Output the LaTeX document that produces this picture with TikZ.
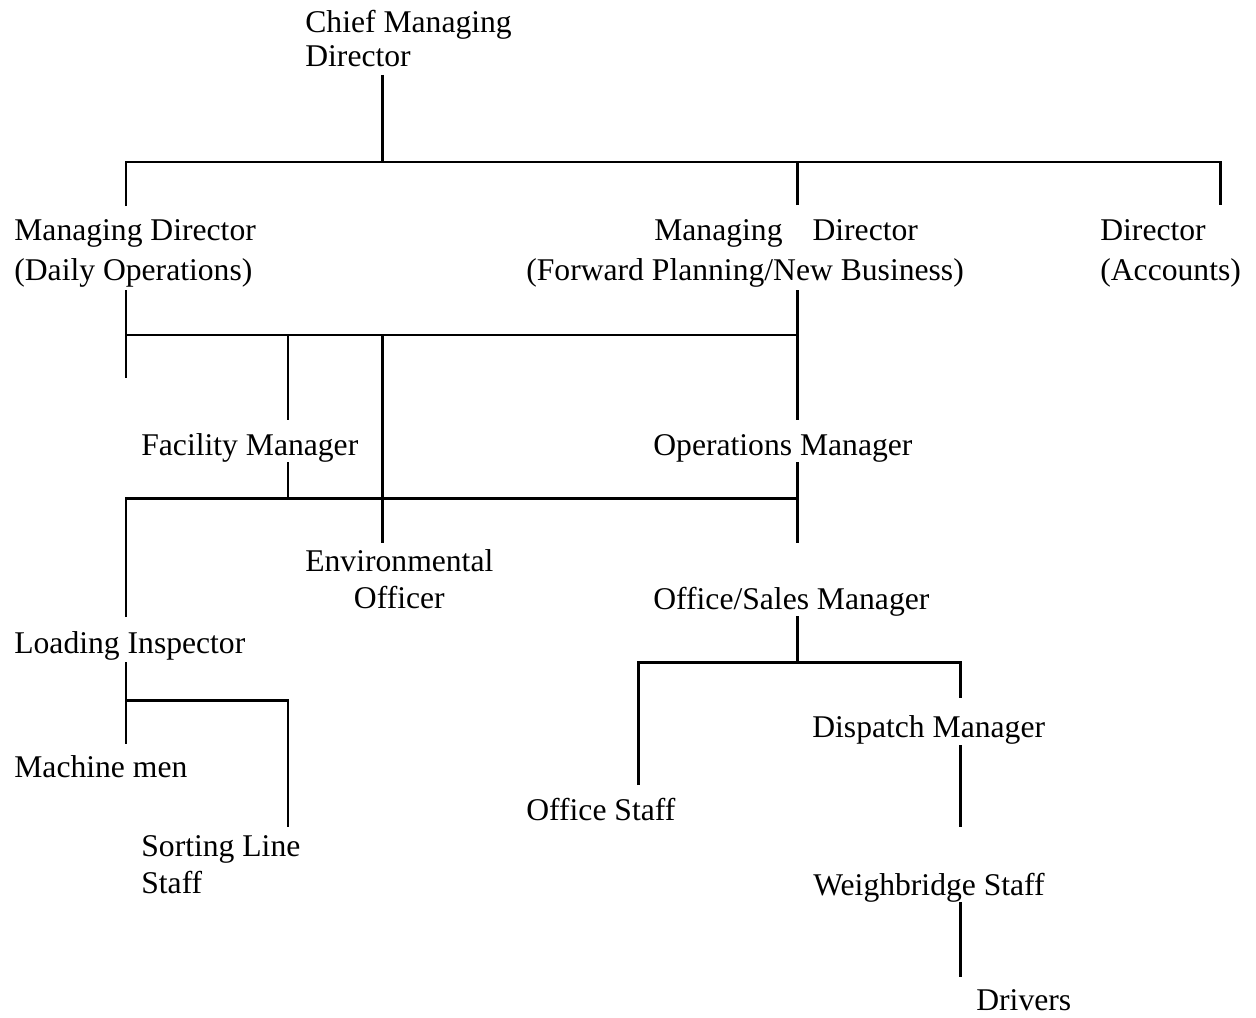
\documentclass[tikz,border=0pt]{standalone}
\usepackage{fontspec}
\setmainfont{Liberation Serif}
\usepackage{tikz}
\usetikzlibrary{positioning,calc}

\tikzset{
  lbl/.style={anchor=base west, inner sep=0pt, align=left, font=\fontsize{18}{20.5}\selectfont},
  wide/.style={font=\fontsize{18}{22.7}\selectfont},
  link/.style={line width=1.7pt}
}

\begin{document}
\begin{tikzpicture}[x=0.02cm, y=-0.02cm]
    \useasboundingbox (0,0) rectangle (1256,1017);

    % Directors (multi-line nodes sit on their last baseline)
    \node [lbl, font=\fontsize{18}{19.8}\selectfont] (cmd) at (305,67) {Chief Managing\\Director};
    \node [lbl, wide] (mdday) at (14,280) {Managing Director\\(Daily Operations)};
    \node [lbl, wide] (mdfwd) at (526,280) {\hspace*{2.56cm}Managing\hspace{0.6cm}Director\\(Forward Planning/New Business)};
    \node [lbl, wide] (dacc) at (1100,280) {Director\\(Accounts)};

    % Managers
    \node [lbl] (fac) at (141,455) {Facility Manager};
    \node [lbl] (ops) at (653,455) {Operations Manager};
    \node [lbl, align=center] (env) at (305,608) {Environmental\\Officer};
    \node [lbl] (osm) at (653,609) {Office/Sales Manager};
    \node [lbl] (li) at (14,653) {Loading Inspector};
    \node [lbl] (dm) at (812,737) {Dispatch Manager};

    % Staff
    \node [lbl] (mm) at (14,777) {Machine men};
    \node [lbl] (os) at (526,820) {Office Staff};
    \node [lbl] (sls) at (141,893) {Sorting Line\\Staff};
    \node [lbl] (ws) at (813,895) {Weighbridge Staff};
    \node [lbl] (dr) at (976,1010) {Drivers};

    % Connector ends
    \coordinate (cmd-s) at (382,75);
    \coordinate (bus1) at (382,162);
    \coordinate (mdday-n) at (126,206);
    \coordinate (mdfwd-n) at (797,205);
    \coordinate (dacc-n) at (1220,205);
    \coordinate (mdday-s) at (126,290);
    \coordinate (mdday-x) at (126,378);
    \coordinate (mdfwd-s) at (797,290);
    \coordinate (bus2) at (382,335);
    \coordinate (fac-n) at (288,420);
    \coordinate (ops-n) at (797,420);
    \coordinate (env-n) at (382,543);
    \coordinate (fac-s) at (288,462);
    \coordinate (ops-s) at (797,462);
    \coordinate (bus3) at (288,498);
    \coordinate (li-n) at (126,617);
    \coordinate (osm-n) at (797,543);
    \coordinate (osm-s) at (797,616);
    \coordinate (bus4) at (797,662);
    \coordinate (os-n) at (638,785);
    \coordinate (dm-n) at (960,698);
    \coordinate (dm-s) at (960,745);
    \coordinate (ws-n) at (960,827);
    \coordinate (ws-s) at (960,902);
    \coordinate (dr-n) at (960,977);
    \coordinate (li-s) at (126,662);
    \coordinate (bus5) at (126,700);
    \coordinate (mm-n) at (126,744);
    \coordinate (sls-n) at (288,827);

    % Connections
    \draw [link] (cmd-s) -- (bus1);
    \draw [link] (mdday-n) |- (bus1) -| (dacc-n);
    \draw [link] (mdfwd-n) -- (mdfwd-n |- bus1);

    \draw [link] (mdday-s) -- (mdday-x);
    \draw [link] (mdfwd-s) -- (ops-n);
    \draw [link] (mdday-s |- bus2) -- (mdfwd-s |- bus2);
    \draw [link] (fac-n |- bus2) -- (fac-n);
    \draw [link] (bus2) -- (env-n);

    \draw [link] (fac-s) -- (bus3);
    \draw [link] (li-n) |- (ops-s |- bus3);
    \draw [link] (ops-s) -- (osm-n);

    \draw [link] (osm-s) -- (bus4);
    \draw [link] (os-n) |- (bus4) -| (dm-n);
    \draw [link] (dm-s) -- (ws-n);
    \draw [link] (ws-s) -- (dr-n);

    \draw [link] (li-s) -- (mm-n);
    \draw [link] (bus5) -| (sls-n);

\end{tikzpicture}
\end{document}
